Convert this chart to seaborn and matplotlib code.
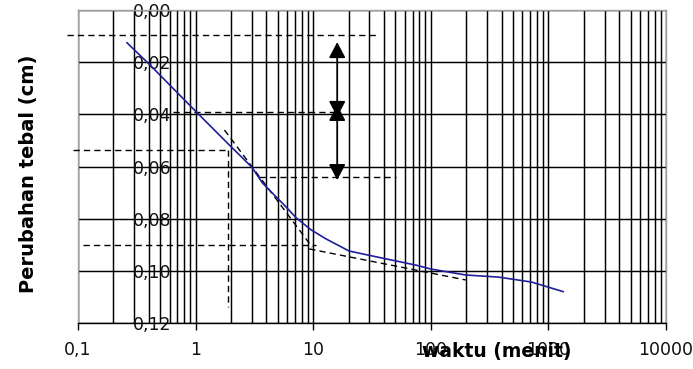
import matplotlib
matplotlib.use("Agg")
import matplotlib.pyplot as plt
import seaborn as sns
import pandas as pd
from matplotlib.ticker import LogLocator, FixedLocator, NullFormatter

# data
waktu = [0.26, 0.41, 1.01, 1.94, 3.0, 3.7, 4.85, 5.46, 7.18, 9.6, 12.9, 20.2,
         38.5, 74.6, 100, 198, 377, 718, 1340]
tebal = [0.0125, 0.0211, 0.039, 0.0518, 0.0602, 0.0663, 0.0717, 0.074, 0.0797,
         0.0843, 0.0878, 0.0924, 0.0951, 0.0978, 0.0993, 0.1016, 0.1024, 0.1043, 0.108]

x_ticks = [0.1, 1, 10, 100, 1000, 10000]
x_labels = ['0,1', '1', '10', '100', '1000', '10000']
y_ticks = [0.0, 0.02, 0.04, 0.06, 0.08, 0.10, 0.12]
y_labels = ['0,00', '0,02', '0,04', '0,06', '0,08', '0,10', '0,12']

# dashed construction lines (x pair, y pair)
garis_putus = [
    ([0.0807, 34], [0.0096, 0.0096]),
    ([0.64, 16], [0.0391, 0.0391]),
    ([0.0907, 1.87], [0.0537, 0.0537]),
    ([1.87, 1.87], [0.0537, 0.1139]),
    ([3.48, 50.5], [0.064, 0.064]),
    ([1.76, 9.8], [0.046, 0.0909]),
    ([0.11, 10.6], [0.0901, 0.0901]),
    ([9.25, 198], [0.0916, 0.1035]),
]
# double arrows (x, y start, y end)
panah = [(16, 0.0123, 0.0410), (16, 0.0364, 0.0652)]

df = pd.DataFrame({'waktu': waktu, 'tebal': tebal})

sns.set_theme(style="white")
plt.rcParams['font.family'] = ['DejaVu Sans']

fig = plt.figure(figsize=(6.93, 3.69), dpi=100)
ax = fig.add_subplot(111)
fig.subplots_adjust(left=78 / 693, right=666 / 693, top=1 - 10 / 369, bottom=1 - 323 / 369)

sns.lineplot(data=df, x='waktu', y='tebal', ax=ax, color='#1f1f9c', lw=1.2, zorder=4)

for xs, ys in garis_putus:
    ax.plot(xs, ys, color='black', ls=(0, (4.5, 3)), lw=1.0, zorder=3, clip_on=False)

for xa, y0, y1 in panah:
    ax.annotate('', xy=(xa, y1), xytext=(xa, y0),
                arrowprops=dict(arrowstyle='<|-|>,head_length=0.95,head_width=0.5',
                                mutation_scale=10, color='black', lw=1.3,
                                shrinkA=0, shrinkB=0), zorder=5)

ax.set_xscale('log')
ax.set_xlim(0.1, 10000)
ax.set_ylim(0.12, 0.0)

ax.xaxis.set_major_locator(FixedLocator(x_ticks))
ax.set_xticklabels(x_labels)
ax.xaxis.set_minor_locator(LogLocator(base=10, subs=range(2, 10), numticks=20))
ax.xaxis.set_minor_formatter(NullFormatter())
ax.set_yticks(y_ticks)
ax.set_yticklabels(y_labels)

ax.grid(True, which='both', axis='x', color='black', lw=1.05)
ax.grid(True, which='major', axis='y', color='black', lw=1.05)

ax.tick_params(axis='x', which='major', direction='out', length=5, width=1,
               color='black', bottom=True, labelsize=12.5, pad=8, labelcolor='#111111')
ax.tick_params(axis='x', which='minor', length=0)
ax.tick_params(axis='y', length=0, labelsize=12.5, pad=-67, labelcolor='#111111')

for s in ['top', 'left', 'right']:
    ax.spines[s].set_color('#a0a0a0')
    ax.spines[s].set_linewidth(1.0)
ax.spines['bottom'].set_color('black')
ax.spines['bottom'].set_linewidth(1.0)

ax.set_xlabel('waktu (menit)', fontsize=13.5, fontweight='bold', color='black')
ax.set_ylabel('Perubahan tebal (cm)', fontsize=14, fontweight='bold', color='black')
ax.xaxis.set_label_coords(0.712, -0.06)
ax.yaxis.set_label_coords(-0.068, 0.476)

fig.savefig('out.png', dpi=100)
